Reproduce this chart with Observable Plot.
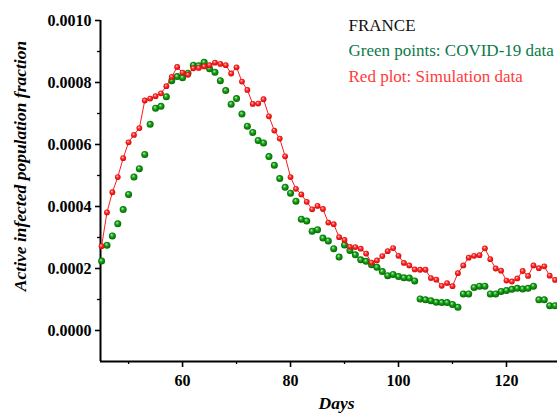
<!DOCTYPE html>
<html>
<head>
<meta charset="utf-8">
<script src="https://cdn.jsdelivr.net/npm/d3@7"></script>
<script src="https://cdn.jsdelivr.net/npm/@observablehq/plot@0.6"></script>
<style>
  html, body { margin: 0; padding: 0; background: #fff; }
  #chart { width: 557px; height: 414px; overflow: hidden; }
</style>
</head>
<body>
<div id="chart"></div>
<script>
// ---- data ----
const days = [45,46,47,48,49,50,51,52,53,54,55,56,57,58,59,60,61,62,63,64,65,66,67,68,69,70,71,72,73,74,75,76,77,78,79,80,81,82,83,84,85,86,87,88,89,90,91,92,93,94,95,96,97,98,99,100,101,102,103,104,105,106,107,108,109,110,111,112,113,114,115,116,117,118,119,120,121,122,123,124,125,126,127,128,129];

const covidData = [0.000224,0.000275,0.000305,0.000344,0.000390,0.000439,0.000495,0.000522,0.000568,0.000665,
  0.000717,0.000723,0.000754,0.000806,0.000819,0.000815,0.000830,0.000856,0.000854,0.000865,
  0.000844,0.000833,0.000806,0.000774,0.000730,0.000748,0.000698,0.000659,0.000639,0.000613,
  0.000605,0.000561,0.000533,0.000490,0.000462,0.000443,0.000417,0.000359,0.000353,0.000320,
  0.000325,0.000298,0.000289,0.000264,0.000237,0.000276,0.000258,0.000244,0.000228,0.000223,
  0.000212,0.000204,0.000190,0.000177,0.000181,0.000174,0.000170,0.000169,0.000160,0.000102,
  0.000099,0.000096,0.000091,0.000090,0.000090,0.000084,0.000075,0.000118,0.000118,0.000139,
  0.000143,0.000143,0.000118,0.000118,0.000126,0.000129,0.000133,0.000136,0.000134,0.000136,
  0.000143,0.000099,0.000099,0.000080,0.000080];

const simulationData = [0.000272,0.000381,0.000446,0.000495,0.000556,0.000607,0.000631,0.000653,0.000742,0.000748,
  0.000756,0.000765,0.000788,0.000818,0.000850,0.000832,0.000825,0.000846,0.000847,0.000852,
  0.000856,0.000864,0.000860,0.000856,0.000829,0.000849,0.000803,0.000776,0.000731,0.000732,
  0.000746,0.000691,0.000645,0.000619,0.000562,0.000495,0.000457,0.000439,0.000415,0.000391,
  0.000402,0.000392,0.000348,0.000343,0.000301,0.000292,0.000270,0.000269,0.000264,0.000248,
  0.000219,0.000226,0.000240,0.000256,0.000266,0.000241,0.000218,0.000210,0.000197,0.000196,
  0.000196,0.000169,0.000164,0.000144,0.000153,0.000143,0.000185,0.000210,0.000235,0.000241,
  0.000243,0.000265,0.000230,0.000200,0.000193,0.000161,0.000158,0.000168,0.000192,0.000176,
  0.000210,0.000201,0.000207,0.000177,0.000163];

const xMajorTicks = [60, 80, 100, 120];
const xMinorTicks = [50, 70, 90, 110];
const yMajorTicks = [0.0000, 0.0002, 0.0004, 0.0006, 0.0008, 0.0010];
const yMinorTicks = [0.0001, 0.0003, 0.0005, 0.0007, 0.0009];
const xDomain = [44.8, 129.45];
const yDomain = [-0.0001, 0.0010];

const xTitle = "Days";
const yTitle = "Active infected population fraction";
const notes = ["FRANCE", "Green points: COVID-19 data", "Red plot: Simulation data"];

// ---- tables ----
const covid = days.map((d, i) => ({day: d, value: covidData[i]}));
const sim = days.map((d, i) => ({day: d, value: simulationData[i]}));

const serif = "'Liberation Serif', 'Times New Roman', serif";

const chart = Plot.plot({
  width: 557,
  height: 414,
  marginLeft: 100,
  marginRight: 0,
  marginTop: 20,
  marginBottom: 53,
  style: {fontFamily: serif, fontSize: "16px", color: "#000", background: "#fff", overflow: "visible"},
  x: {domain: xDomain},
  y: {domain: yDomain},
  marks: [
    Plot.axisY(yMajorTicks, {tickSize: 5, tickPadding: 4, stroke: "#000", strokeWidth: 1.6, tickFormat: d3.format(".4f"), label: null, fontWeight: "bold", fontSize: 16}),
    Plot.axisY(yMinorTicks, {tickSize: 3, stroke: "#000", strokeWidth: 1.3, tickFormat: () => "", label: null}),
    Plot.axisX(xMajorTicks, {tickSize: 6, tickPadding: 7, stroke: "#000", strokeWidth: 1.6, tickFormat: d3.format("d"), label: null, fontWeight: "bold", fontSize: 16}),
    Plot.axisX(xMinorTicks, {tickSize: 3, stroke: "#000", strokeWidth: 1.3, tickFormat: () => "", label: null}),
    Plot.ruleX([xDomain[0]], {stroke: "#000", strokeWidth: 2}),
    Plot.ruleY([yDomain[0]], {stroke: "#000", strokeWidth: 2}),
    Plot.dot(covid, {x: "day", y: "value", r: 3.5, fill: "url(#ballGreen)", stroke: "none"}),
    Plot.line(sim, {x: "day", y: "value", stroke: "#ff1a1a", strokeWidth: 1}),
    Plot.dot(sim, {x: "day", y: "value", r: 2.9, fill: "url(#ballRed)", stroke: "none"}),
    Plot.text([yTitle], {frameAnchor: "left", rotate: -90, dx: -80, dy: -25, lineAnchor: "middle", textAnchor: "middle",
      fontFamily: serif, fontSize: 17.5, fontWeight: "bold", fontStyle: "italic", fill: "#000"}),
    Plot.text([xTitle], {frameAnchor: "bottom", dx: 7.5, dy: 35, lineAnchor: "top", textAnchor: "middle",
      fontFamily: serif, fontSize: 17.5, fontWeight: "bold", fontStyle: "italic", fill: "#000"}),
    Plot.text([notes[0]], {frameAnchor: "top-left", dx: 248, dy: -1.6, lineAnchor: "top", textAnchor: "start",
      fontFamily: serif, fontSize: 17, fill: "#111"}),
    Plot.text([notes[1]], {frameAnchor: "top-left", dx: 248, dy: 23, lineAnchor: "top", textAnchor: "start",
      fontFamily: serif, fontSize: 17, fill: "#0b7a4a"}),
    Plot.text([notes[2]], {frameAnchor: "top-left", dx: 248, dy: 49, lineAnchor: "top", textAnchor: "start",
      fontFamily: serif, fontSize: 17, fill: "#ff3b3b"})
  ]
});

// shaded "ball" markers
const defs = d3.select(chart).insert("defs", ":first-child");
function ball(id, hi, mid, edge) {
  const g = defs.append("radialGradient").attr("id", id)
    .attr("cx", "50%").attr("cy", "50%").attr("r", "55%")
    .attr("fx", "38%").attr("fy", "32%");
  g.append("stop").attr("offset", "0%").attr("stop-color", hi);
  g.append("stop").attr("offset", "45%").attr("stop-color", mid);
  g.append("stop").attr("offset", "100%").attr("stop-color", edge);
}
ball("ballGreen", "#b8f0b8", "#14a014", "#006000");
ball("ballRed", "#ffd0d0", "#ff2a2a", "#d00000");

document.getElementById("chart").appendChild(chart);
</script>
</body>
</html>
